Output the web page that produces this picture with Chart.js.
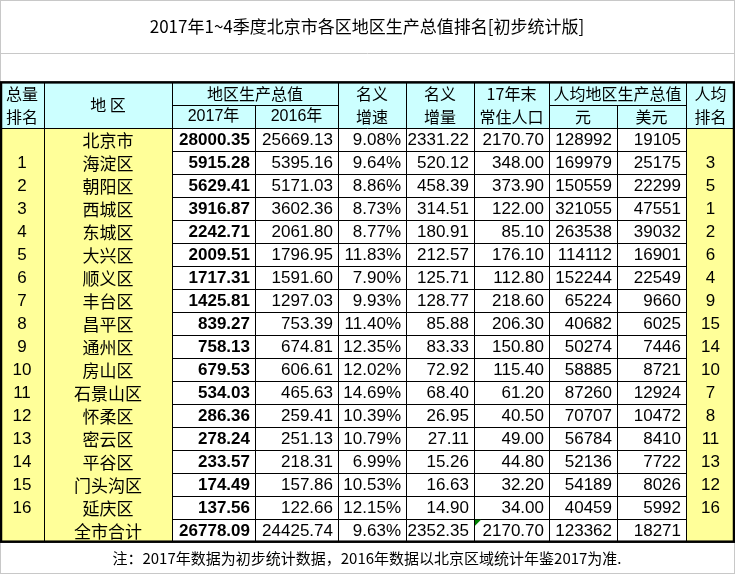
<!DOCTYPE html>
<html><head><meta charset="utf-8">
<script src="https://cdn.jsdelivr.net/npm/chart.js@4"></script>
<style>html,body{margin:0;padding:0;background:#fff}</style>
</head><body>
<div style="width:735px;height:574px"><canvas id="c" width="735" height="574"></canvas></div>
<script>
const title = "2017年1~4季度北京市各区地区生产总值排名[初步统计版]";
const note = "注：2017年数据为初步统计数据，2016年数据以北京区域统计年鉴2017为准.";
const districts = ["北京市","海淀区","朝阳区","西城区","东城区","大兴区","顺义区","丰台区","昌平区","通州区","房山区","石景山区","怀柔区","密云区","平谷区","门头沟区","延庆区","全市合计"];
const totalRank = ["","1","2","3","4","5","6","7","8","9","10","11","12","13","14","15","16",""];
const gdp2017 = ["28000.35","5915.28","5629.41","3916.87","2242.71","2009.51","1717.31","1425.81","839.27","758.13","679.53","534.03","286.36","278.24","233.57","174.49","137.56","26778.09"];
const gdp2016 = ["25669.13","5395.16","5171.03","3602.36","2061.80","1796.95","1591.60","1297.03","753.39","674.81","606.61","465.63","259.41","251.13","218.31","157.86","122.66","24425.74"];
const growth = ["9.08%","9.64%","8.86%","8.73%","8.77%","11.83%","7.90%","9.93%","11.40%","12.35%","12.02%","14.69%","10.39%","10.79%","6.99%","10.53%","12.15%","9.63%"];
const increase = ["2331.22","520.12","458.39","314.51","180.91","212.57","125.71","128.77","85.88","83.33","72.92","68.40","26.95","27.11","15.26","16.63","14.90","2352.35"];
const population = ["2170.70","348.00","373.90","122.00","85.10","176.10","112.80","218.60","206.30","150.80","115.40","61.20","40.50","49.00","44.80","32.20","34.00","2170.70"];
const perCapitaYuan = ["128992","169979","150559","321055","263538","114112","152244","65224","40682","50274","58885","87260","70707","56784","52136","54189","40459","123362"];
const perCapitaUsd = ["19105","25175","22299","47551","39032","16901","22549","9660","6025","7446","8721","12924","10472","8410","7722","8026","5992","18271"];
const perCapitaRank = ["","3","5","1","2","6","4","9","15","14","10","7","8","11","13","12","16",""];

const edges=[0,44,172,255,338,406,474,549,617,686,735];
const YEL="#FFFF99", CYAN="#CCFFFF";
const NUM="'Liberation Sans Narrow','Liberation Sans','Noto Sans CJK SC',sans-serif";
const CJK="'Noto Sans CJK SC',sans-serif";

const tablePlugin={id:'table',afterDraw(chart){
  const ctx=chart.ctx, xs=chart.scales.x, ys=chart.scales.y;
  const X=i=>xs.getPixelForValue(edges[i]);
  const n=districts.length;
  const rowH=(ys.getPixelForValue(n-1)-ys.getPixelForValue(0))/(n-1);
  const top=ys.getPixelForValue(0)-rowH/2, bot=ys.getPixelForValue(n-1)+rowH/2;
  const hTop=top-2*rowH, hMid=top-rowH;
  ctx.save();
  ctx.strokeStyle="#c8c8c8";ctx.lineWidth=1;
  ctx.strokeRect(0.5,0.5,734,hTop);
  ctx.beginPath();ctx.moveTo(0,53.5);ctx.lineTo(735,53.5);ctx.stroke();
  ctx.strokeRect(0.5,bot,734,573.5-bot);
  ctx.fillStyle="#000";ctx.textAlign="center";ctx.textBaseline="middle";
  ctx.font="17px "+CJK;ctx.fillText(title,367,27);
  ctx.font="15px "+CJK;ctx.fillText(note,367,558);
  ctx.fillStyle=CYAN;ctx.fillRect(0,hTop,735,2*rowH);
  ctx.fillStyle=YEL;ctx.fillRect(X(0),top,X(2)-X(0),bot-top);ctx.fillRect(X(9),top,X(10)-X(9),bot-top);
  ctx.strokeStyle="#000";ctx.lineWidth=1;ctx.beginPath();
  for(let r=1;r<n;r++){const y=Math.round(top+r*rowH)+0.5;ctx.moveTo(X(2),y);ctx.lineTo(X(9),y);}
  ctx.moveTo(X(2),Math.round(hMid)+0.5);ctx.lineTo(X(4),Math.round(hMid)+0.5);
  ctx.moveTo(X(7),Math.round(hMid)+0.5);ctx.lineTo(X(9),Math.round(hMid)+0.5);
  ctx.moveTo(0,Math.round(top)+0.5);ctx.lineTo(735,Math.round(top)+0.5);
  for(let i=1;i<10;i++){const x=Math.round(X(i))+0.5;
    if(i===3||i===8){ctx.moveTo(x,hMid);ctx.lineTo(x,bot);} else {ctx.moveTo(x,hTop);ctx.lineTo(x,bot);}}
  ctx.stroke();
  ctx.lineWidth=2.5;ctx.strokeRect(1,hTop,733,bot-hTop);
  ctx.fillStyle="#000";ctx.font="16px "+CJK;ctx.textAlign="center";
  const mx=(a,b)=>(X(a)+X(b))/2, r1=hTop+rowH/2, r2=hMid+rowH/2;
  ctx.fillText("总量",mx(0,1),r1);ctx.fillText("排名",mx(0,1),r2);
  ctx.fillText("地 区",mx(1,2),hMid);
  ctx.fillText("地区生产总值",mx(2,4),r1);
  ctx.fillText("名义",mx(4,5),r1);ctx.fillText("增速",mx(4,5),r2);
  ctx.fillText("名义",mx(5,6),r1);ctx.fillText("增量",mx(5,6),r2);
  ctx.fillText("17年末",mx(6,7),r1);ctx.fillText("常住人口",mx(6,7),r2);
  ctx.fillText("人均地区生产总值",mx(7,9),r1);
  ctx.fillText("元",mx(7,8),r2);ctx.fillText("美元",mx(8,9),r2);
  ctx.fillText("人均",mx(9,10),r1);ctx.fillText("排名",mx(9,10),r2);
  ctx.font="16px "+NUM;ctx.fillText("2017年",mx(2,3),r2);ctx.fillText("2016年",mx(3,4),r2);
  const cols=[gdp2017,gdp2016,growth,increase,population,perCapitaYuan,perCapitaUsd];
  for(let r=0;r<n;r++){
    const y=ys.getPixelForValue(r)+1;
    ctx.textAlign="center";
    ctx.font="17px "+NUM;ctx.fillText(totalRank[r],mx(0,1),y);ctx.fillText(perCapitaRank[r],mx(9,10),y);
    ctx.font="17px "+CJK;ctx.fillText(districts[r],mx(1,2),y);
    ctx.textAlign="right";
    cols.forEach((c,i)=>{ctx.font=(i===0?"bold ":"")+"17px "+NUM;ctx.fillText(c[r],X(i+3)-5,y);});
  }
  const gy=top+(n-1)*rowH+1, gx=X(6)+1;
  ctx.fillStyle="#008000";ctx.beginPath();ctx.moveTo(gx,gy);ctx.lineTo(gx+6,gy);ctx.lineTo(gx,gy+6);ctx.fill();
  ctx.restore();
}};

new Chart(document.getElementById('c'),{
  type:'bar',
  data:{labels:districts,datasets:[{data:districts.map(()=>null)}]},
  options:{responsive:false,animation:false,indexAxis:'y',
    layout:{padding:{top:128.3,bottom:32.3,left:0,right:0}},
    plugins:{legend:{display:false},tooltip:{enabled:false}},
    scales:{x:{type:'linear',min:0,max:735,display:false},
            y:{type:'category',display:false}}},
  plugins:[tablePlugin]
});
</script>
</body></html>
